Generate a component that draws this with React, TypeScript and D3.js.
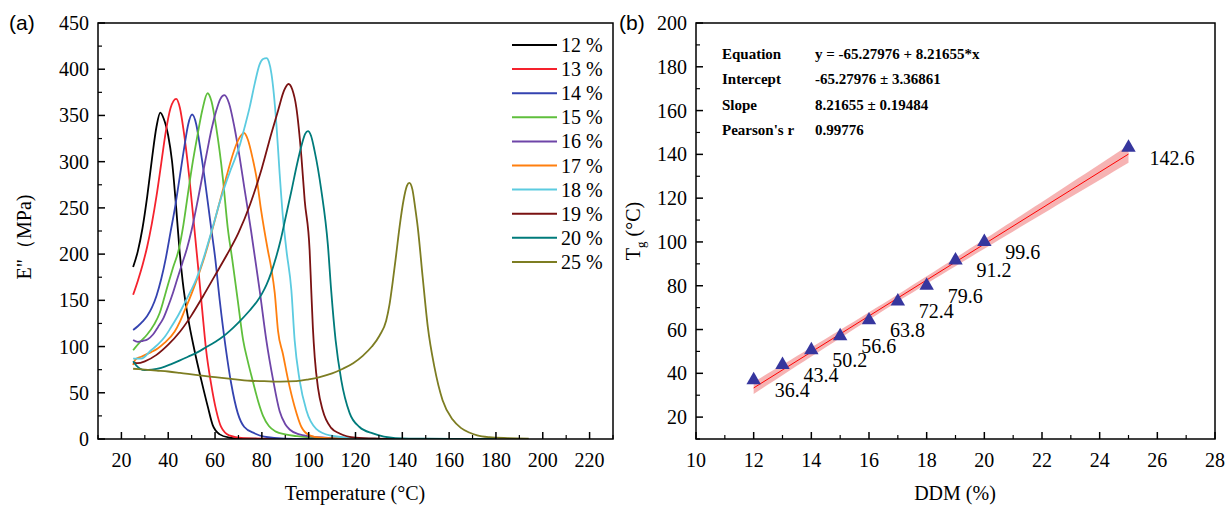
import React from "react";
import * as d3 from "d3";

// ---------- Panel (a) data: E'' (MPa) vs Temperature (°C) ----------
const e12: [number, number][] = [[25,186],[27,203],[29,228],[31,262],[33,302],[35,338],[36.6,353],[38,347],[40,328],[41.6,301],[43.4,250],[44.8,205],[46.2,170],[48.4,132],[51.2,96],[54.1,64],[56.9,35],[59,15],[62,5],[66,1.5],[70,0.5],[80,0.2],[100,0]];
const e13: [number, number][] = [[25,156],[27,171],[29,188],[31,208],[33,233],[35,263],[37,298],[39,333],[41,358],[43.4,368],[45,358],[46.5,335],[49,283],[51,232],[53,180],[54.5,140],[56.2,96],[58.3,60],[60.5,31],[62.6,13],[66,4],[72,1],[85,0.2],[110,0]];
const e14: [number, number][] = [[25,118],[27,122],[29,127],[31,133],[33,142],[35,155],[37,173],[39,196],[41,224],[43,252],[45,285],[47,318],[48.5,340],[50.2,351],[52,340],[53.4,319],[55.5,283],[58.3,229],[60,197],[62,150],[64.7,96],[66.9,60],[69.7,28],[72.5,13],[77,6],[81,2.6],[90,0.5],[110,0]];
const e15: [number, number][] = [[25,96],[28,105],[31,113],[34,124],[36.3,136],[38,150],[40,168],[42,185],[44.5,205],[46.5,232],[48.4,265],[50.5,300],[52.6,330],[54.5,355],[56.8,374],[58.5,365],[60.5,337],[63.3,283],[65.4,229],[67.3,195],[69.7,150],[72,107],[74,84],[76.2,62],[78.5,40],[80.5,25],[83,14],[86,8],[90,5],[95,3],[105,1],[120,0]];
const e16: [number, number][] = [[25,107],[27,105],[29,106],[31.3,108],[33.5,113],[35.6,121],[38,131],[39.9,143],[42,158],[44.1,175],[46,190],[48,206],[50,226],[52.6,258],[55,290],[56.9,315],[58.5,335],[60.5,355],[62.3,368],[64,372],[66,363],[68.3,337],[70.5,305],[72.5,272],[75.4,225],[77,197],[79.1,160],[81.9,107],[84.8,64],[87.6,30],[90,16],[92,10],[96,5],[100,3],[110,1],[125,0]];
const e17: [number, number][] = [[25,80],[26,86],[28.5,89],[32.7,94],[35.5,98],[38.4,104],[42.7,116],[45,127],[47,139],[49,151],[51,164],[53,178],[55,193],[57,210],[59,228],[61,247],[63,266],[65,285],[67,303],[69,318],[71,328],[72.4,331],[74,324],[76.1,303],[77.7,283],[79.7,247],[82.5,205],[84,185],[85.5,158],[86.9,117],[89,92],[91.2,64],[94,35],[96.9,13],[100.4,4],[105,1.5],[115,0.5],[130,0]];
const e18: [number, number][] = [[25,87],[28.5,87],[32.7,96],[35.5,102],[38.4,110],[41,120],[44.1,133],[47,147],[49.8,161],[52,173],[54,187],[56,203],[58,220],[60,238],[62,256],[64,272],[66.5,290],[68.5,303],[70.6,318],[72.5,336],[74.8,359],[77,385],[79,405],[80.5,411],[82,412],[83,408],[84.1,395],[86.2,341],[87.6,287],[89,240],[90.5,204],[92.6,161],[94,107],[96.1,64],[99,31],[103.2,11],[109,4],[120,1],[135,0]];
const e19: [number, number][] = [[25,83],[27,82],[30,84],[35,91],[40,102],[45,116],[50,134],[55,155],[60,177],[65,199],[70,223],[75,254],[80,293],[84,330],[87,356],[89.5,377],[91.4,384],[93,378],[94.7,359],[96.9,305],[98.3,258],[100.4,204],[101.1,161],[101.8,120],[102.6,88],[104,55],[106,31],[109.6,12],[113.2,6],[120,1.5],[130,0.5],[145,0]];
const e20: [number, number][] = [[25,84],[26.5,79],[28,76],[30,74.5],[33,75],[37,77],[41.3,81],[45,85],[48.4,89],[52.6,94],[56,99],[60,105],[63,110],[66.3,117],[70,126],[74.8,139],[78,149],[80,157],[82,167],[84,180],[86,196],[88,215],[90,238],[92.6,268],[95,297],[97,318],[98.5,330],[99.7,333],[101,328],[102.5,312],[105.4,269],[108.2,210],[109.6,161],[111.5,107],[113.9,64],[117.5,28],[121.7,13],[127.4,6],[137,1],[150,0.3],[180,0]];
const e25: [number, number][] = [[25,76],[30,75],[35,74],[40,73],[45,71.5],[52.6,69],[60,67],[66.9,65],[75,63],[81,62.5],[88,62],[94.7,62.5],[100,64.5],[104.7,67],[110,71],[114.6,76],[119,82],[123.1,90],[127,100],[130.3,112],[133.1,128],[134.5,145],[135.9,170],[137.4,200],[138.8,229],[140.5,258],[142,274],[143,277],[144.3,270],[145.5,250],[146.6,229],[148.7,175],[150.9,121],[153.7,78],[157.2,42],[161.5,21],[165,12],[168.6,7],[172,4],[177.2,2],[185,1],[194,0.5]];

const seriesNames = ["12 %", "13 %", "14 %", "15 %", "16 %", "17 %", "18 %", "19 %", "20 %", "25 %"];
const seriesData = [e12, e13, e14, e15, e16, e17, e18, e19, e20, e25];
const seriesColors = ["#000000", "#f5222d", "#3443b0", "#5fbf3c", "#6e45a8", "#ff7f0e", "#5ccbe0", "#7a1212", "#007b7b", "#7d7d22"];

const leftXTicks = [20, 40, 60, 80, 100, 120, 140, 160, 180, 200, 220];
const leftYTicks = [0, 50, 100, 150, 200, 250, 300, 350, 400, 450];

// ---------- Panel (b) data: Tg vs DDM ----------
const ddm = [12, 13, 14, 15, 16, 17, 18, 19, 20, 25];
const tg = [36.4, 43.4, 50.2, 56.6, 63.8, 72.4, 79.6, 91.2, 99.6, 142.6];
const tgLabels = ["36.4", "43.4", "50.2", "56.6", "63.8", "72.4", "79.6", "91.2", "99.6", "142.6"];
const rightXTicks = [10, 12, 14, 16, 18, 20, 22, 24, 26, 28];
const rightYTicks = [20, 40, 60, 80, 100, 120, 140, 160, 180, 200];
const statNames = ["Equation", "Intercept", "Slope", "Pearson's r"];
const statValues = ["y = -65.27976 + 8.21655*x", "-65.27976 \u00b1 3.36861", "8.21655 \u00b1 0.19484", "0.99776"];

const SERIF = "'Times New Roman', 'Liberation Serif', serif";
const SANS = "Arial, 'Liberation Sans', sans-serif";

export default function App() {
  const xL = d3.scaleLinear().domain([10, 230]).range([98, 613]);
  const yL = d3.scaleLinear().domain([0, 450]).range([439, 23]);
  const xR = d3.scaleLinear().domain([10, 28]).range([696, 1215]);
  const yR = d3.scaleLinear().domain([10, 200]).range([439, 23]);

  const line = d3
    .line<[number, number]>()
    .x((d) => xL(d[0]))
    .y((d) => yL(d[1]))
    .curve(d3.curveMonotoneX);

  // linear regression and 95% confidence band
  const n = ddm.length;
  const mx = d3.mean(ddm) as number;
  const my = d3.mean(tg) as number;
  const sxx = d3.sum(ddm, (x) => (x - mx) ** 2);
  const sxy = d3.sum(ddm.map((x, i) => (x - mx) * (tg[i] - my)));
  const slope = sxy / sxx;
  const icpt = my - slope * mx;
  const sse = d3.sum(ddm.map((x, i) => (tg[i] - (icpt + slope * x)) ** 2));
  const s = Math.sqrt(sse / (n - 2));
  const tcrit = 2.306;
  const xs = d3.range(12, 25.001, 0.25);
  const band = xs.map((x) => {
    const h = tcrit * s * Math.sqrt(1 / n + (x - mx) ** 2 / sxx);
    return { x, lo: icpt + slope * x - h, hi: icpt + slope * x + h };
  });
  const area = d3
    .area<{ x: number; lo: number; hi: number }>()
    .x((d) => xR(d.x))
    .y0((d) => yR(d.lo))
    .y1((d) => yR(d.hi));
  const tri = d3.symbol().type(d3.symbolTriangle).size(90)();

  const leftMinorX = d3.range(10, 231, 10).filter((v) => v % 20 !== 0);
  const leftMinorY = d3.range(25, 450, 50);
  const rightMinorX = d3.range(11, 28, 2);
  const rightMinorY = d3.range(10, 200, 20);

  return (
    <svg width={1226} height={506} style={{ position: "absolute", left: 0, top: 0, background: "#fff" }}>
      {/* ---------- Panel (a) ---------- */}
      <text x={9} y={30} fontFamily={SANS} fontSize={21}>(a)</text>
      <defs>
        <clipPath id="clipL">
          <rect x={98} y={23} width={515} height={416} />
        </clipPath>
      </defs>
      <g clipPath="url(#clipL)">
        {seriesData.map((d, i) => (
          <path key={i} d={line(d) || ""} fill="none" stroke={seriesColors[i]} strokeWidth={1.8} />
        ))}
      </g>
      <rect x={98} y={23} width={515} height={416} fill="none" stroke="#000" strokeWidth={1.5} />
      {leftXTicks.map((t) => (
        <g key={t}>
          <line x1={xL(t)} x2={xL(t)} y1={439} y2={432} stroke="#000" strokeWidth={1.5} />
          <text x={xL(t)} y={467} textAnchor="middle" fontFamily={SERIF} fontSize={20}>{t}</text>
        </g>
      ))}
      {leftMinorX.map((t) => (
        <line key={t} x1={xL(t)} x2={xL(t)} y1={439} y2={435} stroke="#000" strokeWidth={1.2} />
      ))}
      {leftYTicks.map((t) => (
        <g key={t}>
          <line x1={98} x2={105} y1={yL(t)} y2={yL(t)} stroke="#000" strokeWidth={1.5} />
          <text x={89} y={yL(t) + 7} textAnchor="end" fontFamily={SERIF} fontSize={20}>{t}</text>
        </g>
      ))}
      {leftMinorY.map((t) => (
        <line key={t} x1={98} x2={102} y1={yL(t)} y2={yL(t)} stroke="#000" strokeWidth={1.2} />
      ))}
      <text x={355} y={500} textAnchor="middle" fontFamily={SERIF} fontSize={20}>Temperature (°C)</text>
      <text transform="translate(31,237) rotate(-90)" textAnchor="middle" fontFamily={SERIF} fontSize={20}>
        E"（MPa)
      </text>
      {seriesNames.map((nm, i) => (
        <g key={nm} transform={`translate(0,${45 + i * 24.1})`}>
          <line x1={512} x2={557} y1={0} y2={0} stroke={seriesColors[i]} strokeWidth={2} />
          <text x={561} y={7} fontFamily={SERIF} fontSize={20}>{nm}</text>
        </g>
      ))}

      {/* ---------- Panel (b) ---------- */}
      <text x={619} y={30} fontFamily={SANS} fontSize={21}>(b)</text>
      <path d={area(band) || ""} fill="#f4a6a6" opacity={0.85} />
      <line x1={xR(12)} x2={xR(25)} y1={yR(icpt + slope * 12)} y2={yR(icpt + slope * 25)} stroke="#ff0000" strokeWidth={1} />
      {ddm.map((x, i) => (
        <path key={x} d={tri || ""} transform={`translate(${xR(x)},${yR(tg[i]) - 1})`} fill="#36369e" />
      ))}
      {ddm.map((x, i) => (
        <text key={"l" + x} x={xR(x) + 21} y={yR(tg[i]) + 16} fontFamily={SERIF} fontSize={20}>{tgLabels[i]}</text>
      ))}
      <rect x={696} y={23} width={519} height={416} fill="none" stroke="#000" strokeWidth={1.5} />
      {rightXTicks.map((t) => (
        <g key={t}>
          <line x1={xR(t)} x2={xR(t)} y1={439} y2={432} stroke="#000" strokeWidth={1.5} />
          <text x={xR(t)} y={467} textAnchor="middle" fontFamily={SERIF} fontSize={20}>{t}</text>
        </g>
      ))}
      {rightMinorX.map((t) => (
        <line key={t} x1={xR(t)} x2={xR(t)} y1={439} y2={435} stroke="#000" strokeWidth={1.2} />
      ))}
      {rightYTicks.map((t) => (
        <g key={t}>
          <line x1={696} x2={703} y1={yR(t)} y2={yR(t)} stroke="#000" strokeWidth={1.5} />
          <text x={687} y={yR(t) + 7} textAnchor="end" fontFamily={SERIF} fontSize={20}>{t}</text>
        </g>
      ))}
      {rightMinorY.map((t) => (
        <line key={t} x1={696} x2={700} y1={yR(t)} y2={yR(t)} stroke="#000" strokeWidth={1.2} />
      ))}
      <text x={955} y={500} textAnchor="middle" fontFamily={SERIF} fontSize={20}>DDM (%)</text>
      <text transform="translate(640,231) rotate(-90)" textAnchor="middle" fontFamily={SERIF} fontSize={20}>
        <tspan>T</tspan>
        <tspan fontSize={13} dy={5}>g</tspan>
        <tspan dy={-5}> (°C)</tspan>
      </text>
      {statNames.map((nm, i) => (
        <g key={nm}>
          <text x={722} y={59 + i * 25.3} fontFamily={SERIF} fontSize={15} fontWeight="bold">{nm}</text>
          <text x={815} y={59 + i * 25.3} fontFamily={SERIF} fontSize={15} fontWeight="bold">{statValues[i]}</text>
        </g>
      ))}
    </svg>
  );
}
